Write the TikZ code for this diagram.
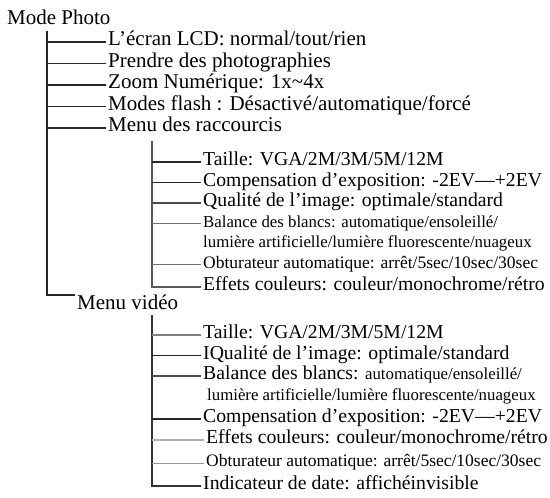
\documentclass[tikz,border=0pt]{standalone}
\usepackage{fontspec}
\setmainfont{Liberation Serif}
\usetikzlibrary{positioning}
\newcommand{\petit}{\fontsize{16.8}{20}\selectfont}
\tikzset{Top style/.style={inner xsep=2pt, inner ysep=0pt, text height=12pt, text depth=5pt, font=\fontsize{21}{25}\selectfont}}
\tikzset{Item style/.style={Top style, font=\fontsize{19.7}{23}\selectfont}}
\tikzset{Detail style/.style={Top style, font=\petit}}
\tikzset{
	Trunk style/.style={line width=1.3pt, draw=black!85}, % Tronco de cada menu
	Branch style/.style={line width=1.2pt, draw=black!85}, % Ramas hacia cada opcion
	Light branch/.style={line width=0.9pt, draw=black!40}, % Ramas claras
}

\begin{document}
\begin{tikzpicture}[x=1pt, y=-1pt]
        \useasboundingbox (0,0) rectangle (550,498);
        % Mode Photo
        \node[Top style, anchor=base west] (mode_photo) at (5,24) {Mode Photo};
        \coordinate (photo_root) at (47,31);
        \node[Top style, anchor=west] (ecran_lcd) at (106,42) {L’écran LCD: normal/tout/rien};
        \node[Top style, below=21.5pt of ecran_lcd.west, anchor=west] (prendre_photos) {Prendre des photographies};
        \node[Top style, below=21.5pt of prendre_photos.west, anchor=west] (zoom_num) {Zoom Numérique: 1x\char"7E 4x};
        \node[Top style, below=21.5pt of zoom_num.west, anchor=west] (modes_flash) {Modes flash : Désactivé/automatique/forcé};
        \node[Top style, below=21.5pt of modes_flash.west, anchor=west] (raccourcis) {Menu des raccourcis};
        \node[Top style, text height=14pt, anchor=north west] (menu_video) at (75,295) {Menu vidéo};

        % Menu des raccourcis
        \coordinate (raccourcis_root) at (152,141);
        \node[Item style, anchor=west] (taille_photo) at (201,162) {Taille: VGA/2M/3M/5M/12M};
        \node[Item style, below=20.5pt of taille_photo.west, anchor=west] (compensation_photo) {Compensation d’exposition: -2EV—+2EV};
        \node[Item style, below=20.5pt of compensation_photo.west, anchor=west] (qualite_photo) {Qualité de l’image: optimale/standard};
        \node[Detail style, below=20.5pt of qualite_photo.west, anchor=west] (balance_photo) {Balance des blancs: automatique/ensoleillé/};
        \node[Detail style, below=20.5pt of balance_photo.west, anchor=west] (lumiere_photo) {lumière artificielle/lumière fluorescente/nuageux};
        \node[Detail style, font=\fontsize{17.5}{20}\selectfont, below=20.5pt of lumiere_photo.west, anchor=west] (obturateur_photo) {Obturateur automatique: arrêt/5sec/10sec/30sec};
        \node[Item style, below=22.5pt of obturateur_photo.west, anchor=west] (effets_photo) {Effets couleurs: couleur/monochrome/rétro};

        % Menu video
        \coordinate (video_root) at (152,315);
        \node[Item style, anchor=west] (taille_video) at (201,335) {Taille: VGA/2M/3M/5M/12M};
        \node[Item style, below=20.5pt of taille_video.west, anchor=west] (qualite_video) {IQualité de l’image: optimale/standard};
        \node[Item style, below=20.5pt of qualite_video.west, anchor=west] (balance_video) {Balance des blancs: {\petit automatique/ensoleillé/}};
        \node[Detail style, below=20.5pt of balance_video.west, anchor=west, xshift=4pt] (lumiere_video) {lumière artificielle/lumière fluorescente/nuageux};
        \node[Item style, below=22.5pt of balance_video.west, yshift=-20.5pt, anchor=west] (compensation_video) {Compensation d’exposition: -2EV—+2EV};
        \node[Item style, below=21pt of compensation_video.west, anchor=west, xshift=3pt] (effets_video) {Effets couleurs: couleur/monochrome/rétro};
        \node[Detail style, font=\fontsize{17.5}{20}\selectfont, below=23pt of effets_video.west, anchor=west] (obturateur_video) {Obturateur automatique: arrêt/5sec/10sec/30sec};
        \node[Item style, below=23pt of obturateur_video.west, anchor=west, xshift=-3pt] (indicateur_video) {Indicateur de date: affichéinvisible};

        \draw[Trunk style] (photo_root) |- (menu_video.north west);
        \draw[Branch style] (photo_root |- ecran_lcd.west) -- (ecran_lcd.west);
        \draw[Branch style] (photo_root |- prendre_photos.west) -- (prendre_photos.west);
        \draw[Branch style] (photo_root |- zoom_num.west) -- (zoom_num.west);
        \draw[Branch style] (photo_root |- modes_flash.west) -- (modes_flash.west);
        \draw[Branch style] (photo_root |- raccourcis.west) -- (raccourcis.west);

        \draw[Trunk style, draw=black!65, line width=1.6pt] (raccourcis_root) |- (effets_photo.west);
        \draw[Branch style] (raccourcis_root |- taille_photo.west) -- (taille_photo.west);
        \draw[Branch style] (raccourcis_root |- compensation_photo.west) -- (compensation_photo.west);
        \draw[Branch style, draw=black!70] (raccourcis_root |- qualite_photo.west) -- (qualite_photo.west);
        \draw[Branch style, draw=black!55, line width=1.5pt] (raccourcis_root |- balance_photo.west) -- (balance_photo.west);
        \draw[Light branch, draw=black!55] (raccourcis_root |- obturateur_photo.west) -- (obturateur_photo.west);

        \draw[Trunk style, draw=black!80] (video_root) |- (indicateur_video.west);
        \draw[Branch style, draw=black!50, line width=1.6pt] (video_root |- taille_video.west) -- (taille_video.west);
        \draw[Branch style] (video_root |- qualite_video.west) -- (qualite_video.west);
        \draw[Branch style, draw=black!70] (video_root |- balance_video.west) -- (balance_video.west);
        \draw[Branch style, line width=1.5pt] (video_root |- compensation_video.west) -- (compensation_video.west);
        \draw[Light branch, draw=black!30, line width=1.5pt] (video_root |- effets_video.west) -- (effets_video.west);
        \draw[Light branch] (video_root |- obturateur_video.west) -- (obturateur_video.west);
\end{tikzpicture}
\end{document}
